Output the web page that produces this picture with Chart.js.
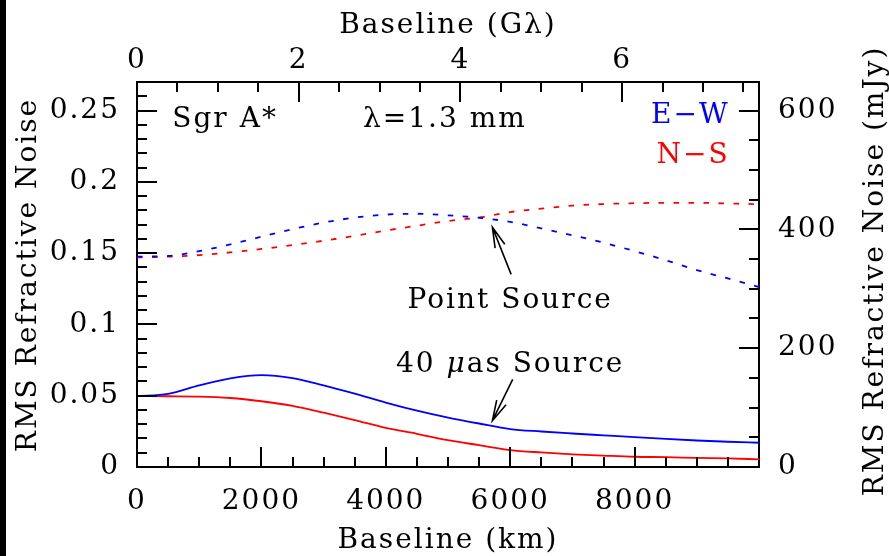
<!DOCTYPE html>
<html>
<head>
<meta charset="utf-8">
<script src="https://cdn.jsdelivr.net/npm/chart.js@4/dist/chart.umd.min.js"></script>
<style>
  html, body { margin: 0; padding: 0; background: #fff; }
  #wrap { position: relative; width: 889px; height: 556px; }
</style>
</head>
<body>
<div id="wrap"><canvas id="c" width="889" height="556"></canvas></div>
<script>
// Baseline sampling (km) and RMS refractive noise for Sgr A* at 1.3 mm
const baselineKm = [0, 500, 1000, 1500, 2000, 2500, 3000, 3500, 4000, 4500, 5000,
                    5500, 6000, 6500, 7000, 7500, 8000, 8500, 9000, 9500, 10000];

// Point source
const ewPoint = [0.1475, 0.1480, 0.1514, 0.1561, 0.1615, 0.1668, 0.1714, 0.1749, 0.1770, 0.1776, 0.1765,
                 0.1748, 0.1719, 0.1673, 0.1625, 0.1573, 0.1514, 0.1450, 0.1381, 0.1322, 0.1262];
const nsPoint = [0.1470, 0.1475, 0.1486, 0.1505, 0.1529, 0.1556, 0.1587, 0.1621, 0.1658, 0.1692, 0.1725,
                 0.1750, 0.1788, 0.1812, 0.1833, 0.1844, 0.1850, 0.1853, 0.1853, 0.1848, 0.1843];

// 40 micro-arcsecond source
const ewSource40 = [0.0497, 0.0513, 0.0572, 0.0622, 0.0645, 0.0624, 0.0572, 0.0514, 0.0452, 0.0395, 0.0347,
                    0.0305, 0.0266, 0.0249, 0.0235, 0.0222, 0.0209, 0.0197, 0.0186, 0.0177, 0.0170];
const nsSource40 = [0.0497, 0.0496, 0.0494, 0.0484, 0.0461, 0.0429, 0.0381, 0.0329, 0.0274, 0.0233, 0.0188,
                    0.0153, 0.0119, 0.0102, 0.0089, 0.0080, 0.0072, 0.0069, 0.0064, 0.0060, 0.0054];

// Axis ticks and labels
const kmTicks = [0, 2000, 4000, 6000, 8000];
const kmTickLabels = ['0', '2000', '4000', '6000', '8000'];
const gLambdaTicks = [0, 2, 4, 6];
const gLambdaTickLabels = ['0', '2', '4', '6'];
const noiseTicks = [0, 0.05, 0.1, 0.15, 0.2, 0.25];
const noiseTickLabels = ['0', '0.05', '0.1', '0.15', '0.2', '0.25'];
const mJyTicks = [0, 200, 400, 600];
const mJyTickLabels = ['0', '200', '400', '600'];

const KM_MAX = 10000;
const NOISE_MAX = 0.27;
const KM_PER_GLAMBDA = 1300;   // 1 G-lambda at 1.3 mm
const MJY_PER_UNIT = 2400;     // noise fraction -> mJy

const EW_COLOR = '#0000ff';
const NS_COLOR = '#ff0000';
const FONT_FAMILY = '"DejaVu Serif", serif';
const FONT_SIZE = 28;
const LETTER_SPACING = '2px';

function series(values) {
  return baselineKm.map((km, i) => ({ x: km, y: values[i] }));
}

function fixedTicks(values) {
  return scale => { scale.ticks = values.map(v => ({ value: v })); };
}

function axisTicks(labels, padding) {
  return {
    font: { family: FONT_FAMILY, size: FONT_SIZE },
    color: '#000',
    padding: padding,
    autoSkip: false,
    maxRotation: 0,
    callback: (v, i) => labels[i]
  };
}

const frame = { display: true, color: '#000', width: 2 };
const noGrid = { display: false, drawTicks: false };

function drawText(ctx, str, x, y, align, color, italic) {
  ctx.save();
  ctx.font = (italic ? 'italic ' : '') + FONT_SIZE + 'px ' + FONT_FAMILY;
  ctx.fillStyle = color || '#000';
  ctx.textAlign = align || 'left';
  ctx.textBaseline = 'alphabetic';
  ctx.fillText(str, x, y);
  ctx.restore();
}

function textWidth(ctx, str, italic) {
  ctx.save();
  ctx.font = (italic ? 'italic ' : '') + FONT_SIZE + 'px ' + FONT_FAMILY;
  const w = ctx.measureText(str).width;
  ctx.restore();
  return w;
}

function arrow(ctx, x0, y0, x1, y1) {
  const ang = Math.atan2(y0 - y1, x0 - x1);
  const head = 21, spread = 0.25;
  ctx.save();
  ctx.strokeStyle = '#000';
  ctx.lineWidth = 1.6;
  ctx.beginPath();
  ctx.moveTo(x0, y0);
  ctx.lineTo(x1, y1);
  ctx.moveTo(x1 + head * Math.cos(ang - spread), y1 + head * Math.sin(ang - spread));
  ctx.lineTo(x1, y1);
  ctx.lineTo(x1 + head * Math.cos(ang + spread), y1 + head * Math.sin(ang + spread));
  ctx.stroke();
  ctx.restore();
}

const decorations = {
  id: 'decorations',
  beforeDraw(chart) {
    const ctx = chart.ctx;
    ctx.letterSpacing = LETTER_SPACING;
    ctx.save();
    ctx.fillStyle = '#fff';
    ctx.fillRect(0, 0, chart.width, chart.height);
    ctx.restore();
  },
  afterDraw(chart) {
    const ctx = chart.ctx;
    const { x, xTop, y, yR } = chart.scales;
    const area = chart.chartArea;
    ctx.save();
    ctx.letterSpacing = LETTER_SPACING;

    // inward tick marks on all four sides
    ctx.strokeStyle = '#000';
    ctx.lineWidth = 2;
    ctx.beginPath();
    const major = 20, minor = 10;
    for (let i = 1; i * 500 < KM_MAX; i++) {
      const px = Math.round(x.getPixelForValue(i * 500));
      ctx.moveTo(px, area.bottom);
      ctx.lineTo(px, area.bottom - (i % 4 === 0 ? major : minor));
    }
    for (let i = 1; i * 0.5 < KM_MAX / KM_PER_GLAMBDA; i++) {
      const px = Math.round(xTop.getPixelForValue(i * 0.5));
      ctx.moveTo(px, area.top);
      ctx.lineTo(px, area.top + (i % 4 === 0 ? major : minor));
    }
    for (let i = 1; i * 0.01 < NOISE_MAX - 1e-9; i++) {
      const py = Math.round(y.getPixelForValue(i * 0.01));
      ctx.moveTo(area.left, py);
      ctx.lineTo(area.left + (i % 5 === 0 ? major : minor), py);
    }
    for (let i = 1; i * 50 < NOISE_MAX * MJY_PER_UNIT; i++) {
      const py = Math.round(yR.getPixelForValue(i * 50));
      ctx.moveTo(area.right, py);
      ctx.lineTo(area.right - (i % 4 === 0 ? major : minor), py);
    }
    ctx.stroke();

    // axis titles
    const cx = (area.left + area.right) / 2;
    drawText(ctx, 'Baseline (G\u03bb)', cx, 33, 'center');
    drawText(ctx, 'Baseline (km)', cx, 548, 'center');

    ctx.save();
    ctx.translate(36, 275);
    ctx.rotate(-Math.PI / 2);
    drawText(ctx, 'RMS Refractive Noise', 0, 0, 'center');
    ctx.restore();

    ctx.save();
    ctx.translate(883, 271);
    ctx.rotate(-Math.PI / 2);
    drawText(ctx, 'RMS Refractive Noise (mJy)', 0, 0, 'center');
    ctx.restore();

    // panel labels
    drawText(ctx, 'Sgr A*', x.getPixelForValue(567), y.getPixelForValue(0.2384), 'left');
    drawText(ctx, '\u03bb=1.3 mm', x.getPixelForValue(3635), y.getPixelForValue(0.2384), 'left');
    drawText(ctx, 'E\u2212W', x.getPixelForValue(9530), y.getPixelForValue(0.2412), 'right', EW_COLOR);
    drawText(ctx, 'N\u2212S', x.getPixelForValue(9530), y.getPixelForValue(0.2132), 'right', NS_COLOR);

    // curve annotations
    drawText(ctx, 'Point Source', x.getPixelForValue(6000), y.getPixelForValue(0.1115), 'center');
    arrow(ctx, x.getPixelForValue(6015), y.getPixelForValue(0.1351),
               x.getPixelForValue(5714), y.getPixelForValue(0.1681));

    const parts = [['40 ', false], ['\u03bc', true], ['as Source', false]];
    const total = parts.reduce((s, p) => s + textWidth(ctx, p[0], p[1]), 0);
    let tx = x.getPixelForValue(6000) - total / 2;
    const ty = y.getPixelForValue(0.0666);
    parts.forEach(([s, it]) => {
      drawText(ctx, s, tx, ty, 'left', '#000', it);
      tx += textWidth(ctx, s, it);
    });
    arrow(ctx, x.getPixelForValue(6040), y.getPixelForValue(0.0615),
               x.getPixelForValue(5714), y.getPixelForValue(0.0325));

    // left edge bar
    ctx.fillStyle = '#000';
    ctx.fillRect(0, 0, 6, chart.height);
    ctx.restore();
  }
};

const dashed = [5.5, 9.5];

new Chart(document.getElementById('c'), {
  type: 'line',
  data: {
    datasets: [
      { label: 'E-W point source', data: series(ewPoint), borderColor: EW_COLOR, borderDash: dashed },
      { label: 'N-S point source', data: series(nsPoint), borderColor: NS_COLOR, borderDash: dashed },
      { label: 'E-W 40 uas source', data: series(ewSource40), borderColor: EW_COLOR },
      { label: 'N-S 40 uas source', data: series(nsSource40), borderColor: NS_COLOR }
    ]
  },
  options: {
    responsive: false,
    animation: false,
    devicePixelRatio: 1,
    layout: { padding: 0 },
    elements: {
      point: { radius: 0 },
      line: { borderWidth: 1.8, cubicInterpolationMode: 'monotone', fill: false }
    },
    plugins: { legend: { display: false }, tooltip: { enabled: false } },
    scales: {
      x: {
        type: 'linear', position: 'bottom', min: 0, max: KM_MAX,
        grid: noGrid, border: frame,
        ticks: axisTicks(kmTickLabels, 18),
        afterBuildTicks: fixedTicks(kmTicks),
        afterFit: s => { s.height = 89; }
      },
      xTop: {
        type: 'linear', position: 'top', min: 0, max: KM_MAX / KM_PER_GLAMBDA,
        grid: noGrid, border: frame,
        ticks: axisTicks(gLambdaTickLabels, 4),
        afterBuildTicks: fixedTicks(gLambdaTicks),
        afterFit: s => { s.height = 82; }
      },
      y: {
        type: 'linear', position: 'left', min: 0, max: NOISE_MAX,
        grid: noGrid, border: frame,
        ticks: axisTicks(noiseTickLabels, 17),
        afterBuildTicks: fixedTicks(noiseTicks),
        afterFit: s => { s.width = 137; }
      },
      yR: {
        type: 'linear', position: 'right', min: 0, max: NOISE_MAX * MJY_PER_UNIT,
        grid: noGrid, border: frame,
        ticks: axisTicks(mJyTickLabels, 19),
        afterBuildTicks: fixedTicks(mJyTicks),
        afterFit: s => { s.width = 130; }
      }
    }
  },
  plugins: [decorations]
});
</script>
</body>
</html>
